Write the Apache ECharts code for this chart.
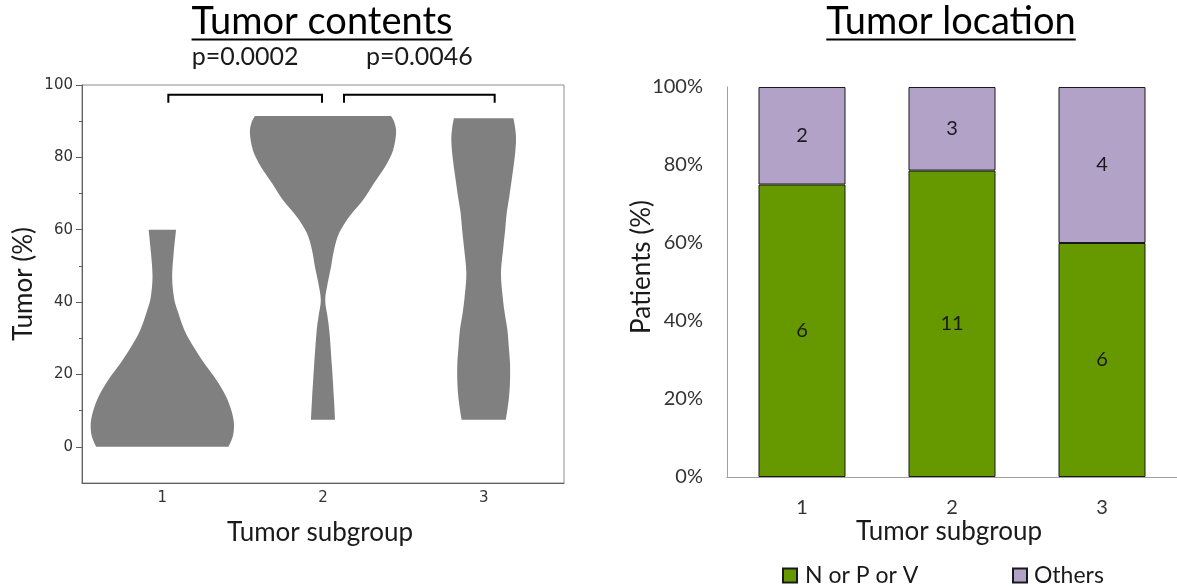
<!DOCTYPE html>
<html>
<head>
<meta charset="utf-8">
<script src="https://cdn.jsdelivr.net/npm/echarts@6/dist/echarts.min.js"></script>
<style>
  html, body { margin: 0; padding: 0; background: #fff; }
  #chart { width: 1177px; height: 588px; }
</style>
</head>
<body>
<div id="chart"></div>
<script>
// ---- Tumor contents (violins): [tumor %, relative density] from bottom to top ----
const subgroups = ['1', '2', '3'];
const violin1 = [[0, 66], [3, 70.5], [6.5, 71.5], [10, 69], [14, 63.5], [18.5, 54], [23, 42],
  [27.7, 31], [32.3, 22], [37.8, 15], [41.5, 11.5], [47, 9.8], [53.5, 11.3], [60, 13.7]];
const violin2 = [[7.5, 12], [13, 11], [22, 9], [31.5, 6.5], [36, 4.5], [40.6, 2.2], [45.3, 4.7],
  [49.7, 8], [54.4, 11], [59, 16], [63.5, 26], [68.2, 40], [72.9, 51], [77.4, 62], [82, 70],
  [86.7, 73], [89.5, 71.5], [91.4, 68]];
const violin3 = [[7.5, 22], [10, 23.5], [13.8, 25.3], [18, 26.3], [23, 26.3], [28, 25], [32.3, 23.7],
  [37, 21], [41.5, 19], [48, 17.3], [55.3, 19.7], [60, 21.5], [64.6, 23], [69, 25.5], [73.8, 28],
  [80, 31], [84.8, 32.3], [88, 31.5], [90.8, 29.7]];
const violins = [violin1, violin2, violin3];
const contentTicks = [0, 20, 40, 60, 80, 100];
const contentMinorTicks = [10, 30, 50, 70, 90];

// significance brackets: from subgroup, to subgroup, bracket level (%)
const bracketFrom = [0, 1];
const bracketTo = [1, 2];
const bracketLevel = [97.3, 97.3];
const pValues = ['p=0.0002', 'p=0.0046'];

// ---- Tumor location: patient counts per subgroup ----
const locNPV = [6, 11, 6];
const locOthers = [2, 3, 4];

// ---------------------------------------------------------------
const FONT = 'Lato, "Open Sans", sans-serif';
const TEXT = '#1a1a1a';
const bracketInset = [[6, -1], [21, 11]];   // px nudges of bracket ends
const densityMax = Math.max(...violins.map(v => Math.max(...v.map(p => p[1]))));

const totals = locNPV.map((v, i) => v + locOthers[i]);
const npvPct = locNPV.map((v, i) => v / totals[i] * 100);
const othPct = locOthers.map((v, i) => v / totals[i] * 100);

// smooth outline through points (Catmull-Rom as cubic Bezier)
function curveThrough(pts) {
  let d = '';
  for (let i = 0; i < pts.length - 1; i++) {
    const p0 = pts[i - 1] || pts[i], p1 = pts[i], p2 = pts[i + 1], p3 = pts[i + 2] || pts[i + 1];
    const c1 = [p1[0] + (p2[0] - p0[0]) / 6, p1[1] + (p2[1] - p0[1]) / 6];
    const c2 = [p2[0] - (p3[0] - p1[0]) / 6, p2[1] - (p3[1] - p1[1]) / 6];
    d += ' C' + c1[0] + ' ' + c1[1] + ' ' + c2[0] + ' ' + c2[1] + ' ' + p2[0] + ' ' + p2[1];
  }
  return d;
}

function renderViolin(params, api) {
  const idx = api.value(0);
  const prof = violins[idx];
  const cx = api.coord([idx, 0])[0];
  const band = api.size([1, 0])[0];
  const k = band * 0.455 / densityMax;
  const right = prof.map(p => [cx + p[1] * k, api.coord([idx, p[0]])[1]]);
  const left = prof.map(p => [cx - p[1] * k, api.coord([idx, p[0]])[1]]).reverse();
  const d = 'M' + right[0][0] + ' ' + right[0][1] + curveThrough(right) +
    ' L' + left[0][0] + ' ' + left[0][1] + curveThrough(left) + ' Z';
  return { type: 'path', shape: { pathData: d }, style: { fill: '#808080', stroke: null } };
}

function renderBracket(params, api) {
  const i = params.dataIndex;
  const x1 = api.coord([api.value(0), 0])[0] + bracketInset[i][0];
  const x2 = api.coord([api.value(1), 0])[0] + bracketInset[i][1];
  const y = api.coord([0, api.value(2)])[1];
  return {
    type: 'group',
    children: [
      { type: 'polyline', shape: { points: [[x1, y + 8], [x1, y], [x2, y], [x2, y + 8]] },
        style: { stroke: '#000', lineWidth: 2, fill: null } },
      { type: 'text', x: (x1 + x2) / 2, y: y - 38,
        style: { text: pValues[i], font: '25px ' + FONT, fill: TEXT, align: 'center', verticalAlign: 'middle' } }
    ]
  };
}

const measureCtx = document.createElement('canvas').getContext('2d');
function textWidth(str, font) { measureCtx.font = font; return measureCtx.measureText(str).width; }

function titleWithUnderline(text, cx, cy, underlineY) {
  const font = '38px ' + FONT;
  const w = textWidth(text, font);
  return [
    { type: 'text', x: cx, y: cy, style: { text: text, font: font, fill: '#000', align: 'center', verticalAlign: 'middle' } },
    { type: 'line', shape: { x1: cx - w / 2, y1: underlineY, x2: cx + w / 2, y2: underlineY }, style: { stroke: '#000', lineWidth: 2 } }
  ];
}

function axisName(text, x, y, rotated) {
  return { type: 'text', x: x, y: y, rotation: rotated ? Math.PI / 2 : 0,
    style: { text: text, font: '26px ' + FONT, fill: TEXT, align: 'center', verticalAlign: 'middle' } };
}

const legendBase = { padding: 0, top: 564, icon: 'rect', itemWidth: 14, itemHeight: 14 };

const chart = echarts.init(document.getElementById('chart'), null, { renderer: 'canvas' });

chart.setOption({
  animation: false,
  backgroundColor: '#fff',
  grid: [
    { left: 82, top: 85, width: 482, height: 398, show: true, borderColor: '#8c8c8c', borderWidth: 1 },
    { left: 727, top: 87, width: 456, height: 390 }
  ],
  xAxis: [
    { type: 'category', gridIndex: 0, data: subgroups,
      axisLine: { onZero: false, lineStyle: { color: '#606060' } }, axisTick: { show: false },
      axisLabel: { margin: 8, fontFamily: '"DejaVu Sans", sans-serif', fontSize: 15, color: '#333' } },
    { type: 'category', gridIndex: 1, data: subgroups,
      axisLine: { onZero: false, lineStyle: { color: '#a0a0a0' } }, axisTick: { show: false },
      axisLabel: { margin: 21, fontFamily: FONT, fontSize: 20, color: '#333' } }
  ],
  yAxis: [
    { type: 'value', gridIndex: 0, min: -10, max: 100, splitLine: { show: false },
      axisLine: { show: true, lineStyle: { color: '#606060' } },
      axisTick: { show: true, customValues: contentTicks, length: 6, lineStyle: { color: '#606060' } },
      axisLabel: { customValues: contentTicks, margin: 9, fontFamily: '"DejaVu Sans", sans-serif', fontSize: 15, color: '#333' } },
    { type: 'value', gridIndex: 0, min: -10, max: 100, position: 'left', splitLine: { show: false },
      axisLine: { show: false }, axisLabel: { show: false },
      axisTick: { show: true, customValues: contentMinorTicks, length: 3, lineStyle: { color: '#606060' } } },
    { type: 'value', gridIndex: 1, min: 0, max: 100, interval: 20, splitLine: { show: false },
      axisLine: { show: true, lineStyle: { color: '#a0a0a0' } }, axisTick: { show: false },
      axisLabel: { margin: 24, formatter: '{value}%', fontFamily: FONT, fontSize: 20, color: '#333' } }
  ],
  legend: [
    Object.assign({ data: ['N or P or V'], left: 782,
      textStyle: { fontFamily: FONT, fontSize: 23, color: TEXT, padding: [0, 0, 0, 3] } }, legendBase),
    Object.assign({ data: ['Others'], left: 1012,
      textStyle: { fontFamily: FONT, fontSize: 23, color: TEXT, padding: [0, 0, 0, 2] } }, legendBase)
  ],
  series: [
    { type: 'custom', name: 'contents', xAxisIndex: 0, yAxisIndex: 0,
      data: subgroups.map((s, i) => [i, 0]), encode: { x: 0, y: 1 },
      renderItem: renderViolin, silent: true },
    { type: 'custom', name: 'brackets', xAxisIndex: 0, yAxisIndex: 0,
      data: bracketFrom.map((f, i) => [f, bracketTo[i], bracketLevel[i]]), encode: { x: [0, 1], y: 2 },
      renderItem: renderBracket, silent: true },
    { type: 'bar', name: 'N or P or V', xAxisIndex: 1, yAxisIndex: 2, stack: 'loc', barWidth: 87,
      data: npvPct, itemStyle: { color: '#669900', borderColor: '#1a1a1a', borderWidth: 1 },
      label: { show: true, position: 'inside', formatter: p => locNPV[p.dataIndex],
        fontFamily: FONT, fontSize: 20, color: TEXT } },
    { type: 'bar', name: 'Others', xAxisIndex: 1, yAxisIndex: 2, stack: 'loc', barWidth: 87,
      data: othPct, itemStyle: { color: '#b3a2c7', borderColor: '#1a1a1a', borderWidth: 1 },
      label: { show: true, position: 'inside', formatter: p => locOthers[p.dataIndex],
        fontFamily: FONT, fontSize: 20, color: TEXT } }
  ],
  graphic: [
    ...titleWithUnderline('Tumor contents', 322, 22, 39.5),
    ...titleWithUnderline('Tumor location', 951, 22, 39.5),
    axisName('Tumor (%)', 24, 284, true),
    axisName('Patients (%)', 642, 267, true),
    axisName('Tumor subgroup', 320, 533, false),
    axisName('Tumor subgroup', 949, 532, false)
  ]
});
</script>
</body>
</html>
